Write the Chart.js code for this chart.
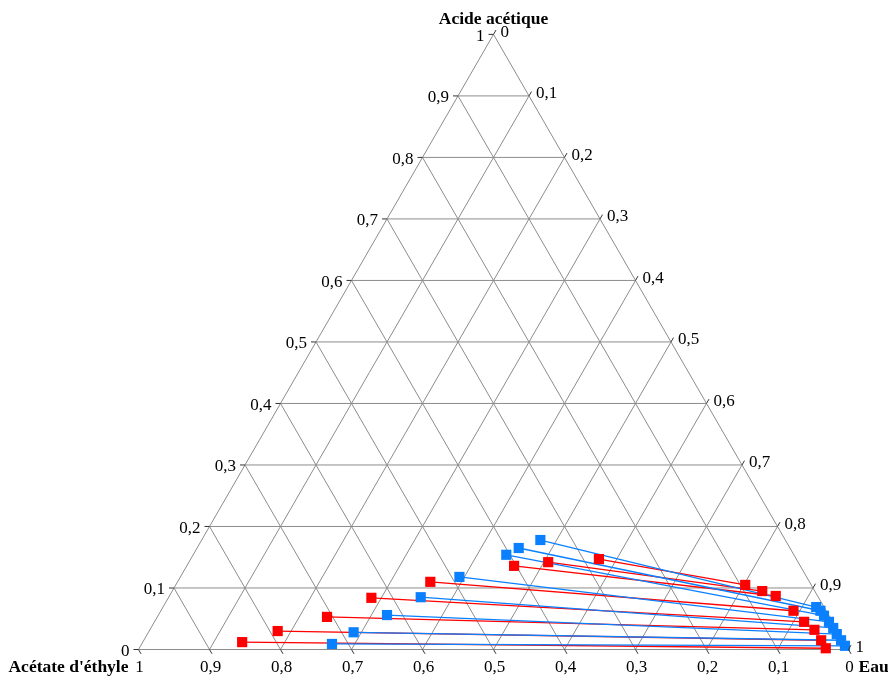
<!DOCTYPE html>
<html>
<head>
<meta charset="utf-8">
<script src="https://cdn.jsdelivr.net/npm/chart.js@4/dist/chart.umd.min.js"></script>
<style>
  body { margin: 0; background: #fff; }
  #wrap { width: 888px; height: 677px; position: relative; }
</style>
</head>
<body>
<div id="wrap"><canvas id="ternary-chart"></canvas></div>
<script>
// Tie lines, mass fractions (bottom to top)
// organic phase (left end) and aqueous phase (right end)
const redOrgAcid  = [0.012, 0.030, 0.053, 0.084, 0.110, 0.136, 0.142, 0.147];
const redOrgWater = [0.140, 0.181, 0.239, 0.286, 0.356, 0.461, 0.506, 0.575];
const redAqAcid   = [0.002, 0.015, 0.032, 0.045, 0.063, 0.087, 0.095, 0.105];
const redAqWater  = [0.967, 0.954, 0.936, 0.915, 0.891, 0.854, 0.831, 0.802];

const blueOrgAcid  = [0.009, 0.028, 0.056, 0.085, 0.118, 0.154, 0.165, 0.178];
const blueOrgWater = [0.268, 0.289, 0.322, 0.355, 0.393, 0.441, 0.453, 0.477];
const blueAqAcid   = [0.006, 0.015, 0.025, 0.035, 0.045, 0.055, 0.063, 0.069];
const blueAqWater  = [0.992, 0.982, 0.971, 0.961, 0.950, 0.938, 0.929, 0.920];

const tickValues = [0, 0.1, 0.2, 0.3, 0.4, 0.5, 0.6, 0.7, 0.8, 0.9, 1];
const titleTop = 'Acide acétique';
const titleLeft = "Acétate d'éthyle";
const titleRight = 'Eau';

const RED = '#ff0000';
const BLUE = '#0a80ff';
const GRID = '#8c8c8c';
const H = Math.sqrt(3) / 2;

// ternary (acid, water) -> cartesian for the linear scales
function toXY(acid, water) {
  return { x: water + acid / 2, y: acid * H };
}

function fmt(v) {
  if (v === 0) return '0';
  if (v === 1) return '1';
  return v.toFixed(1).replace('.', ',');
}

const datasets = [];

// grid: constant acid, constant water, constant acetate (edges included)
tickValues.slice(0, 10).forEach(v => {
  const segs = [
    [toXY(v, 0), toXY(v, 1 - v)],
    [toXY(0, v), toXY(1 - v, v)],
    [toXY(0, 1 - v), toXY(1 - v, 0)]
  ];
  segs.forEach(s => {
    datasets.push({
      data: s, showLine: true, borderColor: GRID, borderWidth: 1,
      pointRadius: 0, order: 3, clip: false
    });
  });
});

function tieLines(orgA, orgW, aqA, aqW, color, order) {
  const pts = [];
  orgA.forEach((a, i) => {
    const p1 = toXY(a, orgW[i]);
    const p2 = toXY(aqA[i], aqW[i]);
    datasets.push({
      data: [p1, p2], showLine: true, borderColor: color, borderWidth: 1.3,
      pointRadius: 0, order: order, clip: false
    });
    pts.push(p1, p2);
  });
  datasets.push({
    data: pts, showLine: false, pointStyle: 'rect', pointRadius: 7.2,
    pointBackgroundColor: color, pointBorderColor: color, pointBorderWidth: 0,
    order: order - 1, clip: false
  });
}
tieLines(redOrgAcid, redOrgWater, redAqAcid, redAqWater, RED, 2.5);
tieLines(blueOrgAcid, blueOrgWater, blueAqAcid, blueAqWater, BLUE, 2);

// ticks, tick labels and corner titles
const ternaryLabels = {
  id: 'ternaryLabels',
  afterDatasetsDraw(chart) {
    const { ctx } = chart;
    const sx = chart.scales.x, sy = chart.scales.y;
    const px = p => ({ x: sx.getPixelForValue(p.x), y: sy.getPixelForValue(p.y) });
    const c60 = 0.5, s60 = H;
    const len = 5;
    ctx.save();
    ctx.strokeStyle = '#333';
    ctx.lineWidth = 1;
    ctx.fillStyle = '#000';
    ctx.font = '17px "Liberation Serif", "Times New Roman", serif';
    ctx.textBaseline = 'middle';
    tickValues.forEach(v => {
      // left side: acid
      let p = px(toXY(v, 0));
      ctx.beginPath(); ctx.moveTo(p.x, p.y); ctx.lineTo(p.x - len, p.y); ctx.stroke();
      ctx.textAlign = 'right';
      ctx.fillText(fmt(v), p.x - 9, p.y + 2);
      // right side: water
      p = px(toXY(1 - v, v));
      ctx.beginPath(); ctx.moveTo(p.x, p.y); ctx.lineTo(p.x + len * c60, p.y - len * s60); ctx.stroke();
      ctx.textAlign = 'left';
      ctx.fillText(fmt(v), p.x + 7, p.y - 2);
      // bottom: ethyl acetate
      p = px(toXY(0, 1 - v));
      ctx.beginPath(); ctx.moveTo(p.x, p.y); ctx.lineTo(p.x + len * c60, p.y + len * s60); ctx.stroke();
      ctx.textAlign = 'center';
      ctx.fillText(fmt(v), p.x + 1, p.y + 18);
    });
    ctx.font = 'bold 17.5px "Liberation Serif", "Times New Roman", serif';
    const top = px(toXY(1, 0));
    ctx.textAlign = 'center';
    ctx.fillText(titleTop, top.x, top.y - 15);
    const bl = px(toXY(0, 0));
    ctx.textAlign = 'right';
    ctx.fillText(titleLeft, bl.x - 10, bl.y + 18);
    const br = px(toXY(0, 1));
    ctx.textAlign = 'left';
    ctx.fillText(titleRight, br.x + 10, br.y + 18);
    ctx.restore();
  }
};

new Chart(document.getElementById('ternary-chart'), {
  type: 'scatter',
  data: { datasets },
  options: {
    responsive: true,
    maintainAspectRatio: false,
    animation: false,
    events: [],
    layout: { padding: { left: 138.5, right: 39.5, top: 34.4, bottom: 27.5 } },
    scales: {
      x: { display: false, min: 0, max: 1 },
      y: { display: false, min: 0, max: H }
    },
    plugins: { legend: { display: false }, tooltip: { enabled: false } }
  },
  plugins: [ternaryLabels]
});
</script>
</body>
</html>
